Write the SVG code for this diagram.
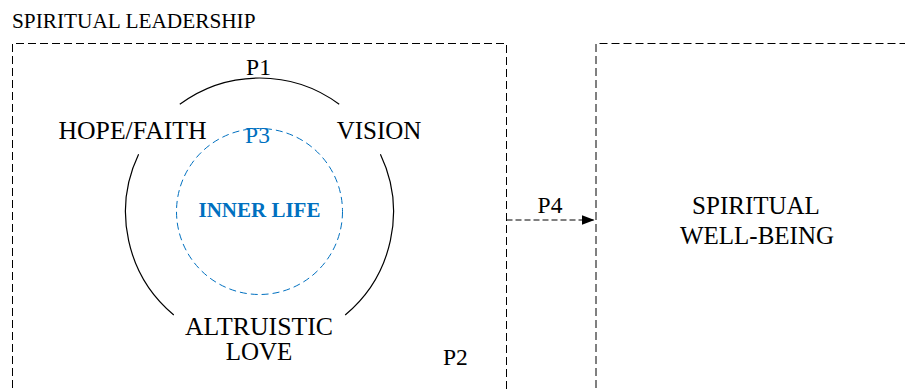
<svg xmlns="http://www.w3.org/2000/svg" width="905" height="392" viewBox="0 0 905 392">
<defs>
<style>
.big{font-size:25px}
.p{font-size:23.5px}
.box{fill:none;stroke:#000;stroke-width:1;stroke-dasharray:8 4}
.arc{fill:none;stroke:#000;stroke-width:1.2}
.blue{fill:#0070C0}
</style>
<marker id="ah" markerWidth="14" markerHeight="10" refX="13" refY="5" orient="auto" markerUnits="userSpaceOnUse">
<path d="M0,0 L13,5 L0,10 Z" fill="#000"/>
</marker>
</defs>
<rect width="905" height="392" fill="#fff"/>
<text x="12" y="28" font-size="21.3" font-family="Liberation Serif">SPIRITUAL LEADERSHIP</text>
<g id="leadership">
<path class="box" d="M12.5,400 V43.5 H506.5 V400"/>
<g id="circle">
<path class="arc" d="M179.8,104.3 A134,134 0 0 1 339.2,104.3"/>
<path class="arc" d="M138.6,154.3 A134,134 0 0 0 173.8,315"/>
<path class="arc" d="M380.4,154.3 A134,134 0 0 1 345.2,315"/>
</g>
<g id="inner-life">
<circle cx="259.5" cy="211.5" r="83" fill="none" stroke="#0070C0" stroke-width="1" stroke-dasharray="7 4"/>
<text class="blue" x="259.5" y="216.7" font-size="21" font-weight="bold" text-anchor="middle" font-family="Liberation Serif">INNER LIFE</text>
</g>
<text class="p" x="258.5" y="75" text-anchor="middle" font-family="Liberation Serif">P1</text>
<text class="p blue" x="257.5" y="143.3" text-anchor="middle" font-family="Liberation Serif">P3</text>
<text class="big" x="132.5" y="139.3" text-anchor="middle" font-family="Liberation Serif" textLength="148" lengthAdjust="spacingAndGlyphs">HOPE/FAITH</text>
<text class="big" x="379" y="138.5" text-anchor="middle" font-family="Liberation Serif">VISION</text>
<text class="big" x="259" y="335" text-anchor="middle" font-family="Liberation Serif" textLength="148" lengthAdjust="spacingAndGlyphs">ALTRUISTIC</text>
<text class="big" x="259" y="360" text-anchor="middle" font-family="Liberation Serif">LOVE</text>
<text class="p" x="443" y="365" font-family="Liberation Serif">P2</text>
</g>
<g id="wellbeing">
<path class="box" d="M596,400 V43.5 H910"/>
<text class="big" x="756" y="214.3" text-anchor="middle" font-family="Liberation Serif">SPIRITUAL</text>
<text class="big" x="757" y="244.3" text-anchor="middle" font-family="Liberation Serif">WELL-BEING</text>
</g>
<g id="connectors">
<path d="M506.5,220 H594.5" fill="none" stroke="#000" stroke-width="1" stroke-dasharray="6 3" marker-end="url(#ah)"/>
<text class="p" x="550" y="213.3" text-anchor="middle" font-family="Liberation Serif">P4</text>
</g>
</svg>
